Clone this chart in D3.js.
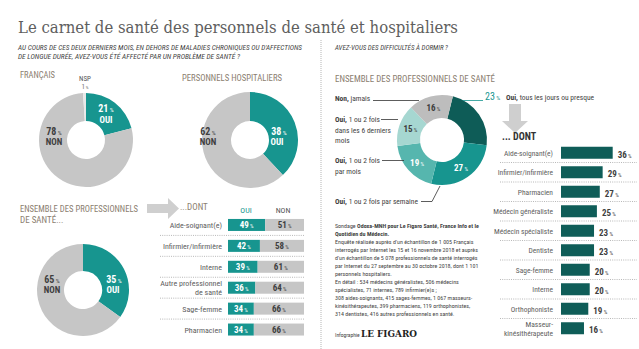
<!DOCTYPE html>
<html>
<head>
<meta charset="utf-8">
<script src="https://cdn.jsdelivr.net/npm/d3@7"></script>
<style>
  body { margin: 0; background: #fff; }
  svg { display: block; }
  text { font-family: "Liberation Sans Narrow", "Roboto Condensed", Roboto, sans-serif; }
</style>
</head>
<body>
<svg width="639" height="349"></svg>
<script>
// --- data ---
const pieCategories = ['OUI', 'NON', 'NSP'];
const francaisValues = [21, 78, 1];
const hospitaliersValues = [38, 62];
const professionnelsValues = [35, 65];

const metiers = ['Aide-soignant(e)', 'Infirmier/infirmière', 'Interne', 'Autre professionnel\nde santé', 'Sage-femme', 'Pharmacien'];
const metiersOui = [49, 42, 39, 36, 34, 34];
const metiersNon = [51, 58, 61, 64, 66, 66];

const sommeilCategories = ['Oui, tous les jours ou presque', 'Oui, 1 ou 2 fois par semaine', 'Oui, 1 ou 2 fois par mois', 'Oui, 1 ou 2 fois dans les 6 derniers mois', 'Non, jamais'];
const sommeilValues = [23, 27, 19, 15, 16];

const sommeilMetiers = ['Aide-soignant(e)', 'Infirmier/infirmière', 'Pharmacien', 'Médecin généraliste', 'Médecin spécialiste', 'Dentiste', 'Sage-femme', 'Interne', 'Orthophoniste', 'Masseur-\nkinésithérapeute'];
const sommeilMetiersValues = [36, 29, 27, 25, 23, 23, 20, 20, 19, 16];

// --- colours ---
const teal = '#17958f', grey = '#c6c6c6', brown = '#8b7e70', ink = '#3f3f3f', soft = '#5e5e5e';
const pieColors = [teal, grey, '#e8e8e8'];
const sleepColors = ['#0e5c57', '#17958f', '#56b6ae', '#a6d7d1', '#bdbdbd'];
const barDark = '#0f5d58';

const svg = d3.select('svg');

function label(g, x, y, str, o = {}) {
  const t = g.append('text')
    .attr('x', x).attr('y', y)
    .attr('font-size', o.size || 8)
    .attr('fill', o.fill || ink)
    .attr('text-anchor', o.anchor || 'start');
  if (o.weight) t.attr('font-weight', o.weight);
  if (o.italic) t.attr('font-style', 'italic');
  if (o.len) t.attr('textLength', o.len).attr('lengthAdjust', 'spacingAndGlyphs');
  t.text(str);
  return t;
}

// "49 %" with a smaller percent sign
function pct(g, x, y, v, o = {}) {
  const t = g.append('text')
    .attr('x', x).attr('y', y)
    .attr('font-size', o.size || 9)
    .attr('font-weight', o.weight || 'bold')
    .attr('fill', o.fill || ink)
    .attr('text-anchor', o.anchor || 'start');
  t.append('tspan').text(v);
  t.append('tspan').attr('font-size', (o.size || 9) * 0.62).attr('font-weight', 'normal').text(' %');
  return t;
}

function donut(cx, cy, values, colors, rOut, rIn, startDeg = 0) {
  const a0 = startDeg * Math.PI / 180;
  const pie = d3.pie().sort(null).startAngle(a0).endAngle(a0 + 2 * Math.PI);
  const arc = d3.arc().innerRadius(rIn).outerRadius(rOut);
  const g = svg.append('g').attr('transform', `translate(${cx},${cy})`);
  const arcs = pie(values);
  g.selectAll('path').data(arcs).join('path')
    .attr('d', arc)
    .attr('fill', (d, i) => colors[i]);
  return { g, arcs, arc };
}

// --- title ---
label(svg, 18, 33, 'Le carnet de santé des personnels de santé et hospitaliers',
  { size: 17, fill: '#5e5e5e', len: 440 }).style('font-family', '"DejaVu Serif", serif');

label(svg, 18, 50, "AU COURS DE CES DEUX DERNIERS MOIS, EN DEHORS DE MALADIES CHRONIQUES OU D'AFFECTIONS",
  { size: 7, italic: true, len: 284 });
label(svg, 18, 59, 'DE LONGUE DURÉE, AVEZ-VOUS ÉTÉ AFFECTÉ PAR UN PROBLÈME DE SANTÉ ?',
  { size: 7, italic: true, len: 222 });
label(svg, 335, 50, 'AVEZ-VOUS DES DIFFICULTÉS À DORMIR ?', { size: 7, italic: true, len: 113 });

// column separator
svg.append('line')
  .attr('x1', 321).attr('x2', 321).attr('y1', 40).attr('y2', 349)
  .attr('stroke', '#b5b5b5').attr('stroke-dasharray', '1,1');

// --- left donuts ---
label(svg, 20, 78, 'FRANÇAIS', { size: 9, fill: brown, len: 35 });
label(svg, 182, 81, 'PERSONNELS HOSPITALIERS', { size: 9, fill: brown, len: 100 });

const d1 = donut(86, 140, francaisValues, pieColors, 47, 19);
label(svg, 85, 81, pieCategories[2], { size: 7, fill: '#555', anchor: 'middle' });
pct(svg, 85, 89, francaisValues[2], { size: 7, weight: 'normal', fill: '#777', anchor: 'middle' });
pct(d1.g, 20, -28, francaisValues[0], { size: 10, fill: '#fff', anchor: 'middle' });
label(d1.g, 20, -17, pieCategories[0], { size: 9, weight: 'bold', fill: '#fff', anchor: 'middle' });
pct(d1.g, -32, -5, francaisValues[1], { size: 10, anchor: 'middle' });
label(d1.g, -32, 5, pieCategories[1], { size: 9, weight: 'bold', anchor: 'middle' });

const d2 = donut(250, 140, hospitaliersValues, pieColors, 48, 19);
pct(d2.g, 29, -5, hospitaliersValues[0], { size: 10, fill: '#fff', anchor: 'middle' });
label(d2.g, 27, 5, pieCategories[0], { size: 9, weight: 'bold', fill: '#fff', anchor: 'middle' });
pct(d2.g, -42, -5, hospitaliersValues[1], { size: 10, anchor: 'middle' });
label(d2.g, -42, 5, pieCategories[1], { size: 9, weight: 'bold', anchor: 'middle' });

// --- professionnels donut + arrow ---
label(svg, 20, 212, 'ENSEMBLE DES PROFESSIONNELS', { size: 9, fill: brown, len: 118 });
label(svg, 20, 223, 'DE SANTÉ...', { size: 9, fill: brown });

svg.append('path')
  .attr('d', 'M147,204 L168,204 L168,198 L179,208.5 L168,219 L168,213 L147,213 Z')
  .attr('fill', '#cfcfcf');
label(svg, 180, 210, '...DONT', { size: 9, fill: brown });

const d3d = donut(83, 290, professionnelsValues, pieColors, 46, 19);
pct(d3d.g, 31, -7, professionnelsValues[0], { size: 10, fill: '#fff', anchor: 'middle' });
label(d3d.g, 30, 3, pieCategories[0], { size: 9, weight: 'bold', fill: '#fff', anchor: 'middle' });
pct(d3d.g, -31, -7, professionnelsValues[1], { size: 10, anchor: 'middle' });
label(d3d.g, -31, 3, pieCategories[1], { size: 9, weight: 'bold', anchor: 'middle' });

// --- OUI / NON table ---
const yRow = d3.scaleBand().domain(metiers).range([214.5, 340]);
const xPct = d3.scaleLinear().domain([0, 100]).range([228, 304]);
const barH = 12;

label(svg, 246, 213, 'OUI', { size: 8, fill: teal, anchor: 'middle' });
label(svg, 283, 213, 'NON', { size: 8, fill: '#555', anchor: 'middle' });

const rows = svg.append('g').selectAll('g').data(metiers).join('g')
  .attr('transform', d => `translate(0,${yRow(d) + yRow.bandwidth() / 2})`);

rows.filter((d, i) => i > 0).append('line')
  .attr('x1', 160).attr('x2', 305)
  .attr('y1', -yRow.bandwidth() / 2).attr('y2', -yRow.bandwidth() / 2)
  .attr('stroke', '#9a9a9a').attr('stroke-width', 0.7).attr('stroke-dasharray', '1,1.2');

rows.append('rect')
  .attr('x', xPct(0)).attr('y', -barH / 2)
  .attr('width', (d, i) => xPct(metiersOui[i]) - xPct(0)).attr('height', barH)
  .attr('fill', teal);
rows.append('rect')
  .attr('x', (d, i) => xPct(metiersOui[i])).attr('y', -barH / 2)
  .attr('width', (d, i) => xPct(metiersOui[i] + metiersNon[i]) - xPct(metiersOui[i])).attr('height', barH)
  .attr('fill', grey);

rows.each(function (d, i) {
  const g = d3.select(this);
  const lines = d.split('\n');
  lines.forEach((s, k) => label(g, 222, 3 + (k - (lines.length - 1) / 2) * 9, s, { size: 8, fill: soft, anchor: 'end' }));
  pct(g, (xPct(0) + xPct(metiersOui[i])) / 2, 3.5, metiersOui[i], { size: 9, fill: '#fff', anchor: 'middle' });
  pct(g, (xPct(metiersOui[i]) + xPct(100)) / 2, 3.5, metiersNon[i], { size: 9, fill: ink, anchor: 'middle' });
});

// --- sleep donut ---
label(svg, 335, 82, 'ENSEMBLE DES PROFESSIONNELS DE SANTÉ', { size: 9, fill: brown, len: 160 });

const ds = donut(442, 140, sommeilValues, sleepColors, 45, 22, 14);
const midR = (45 + 22) / 2;
ds.arcs.forEach((a, i) => {
  if (i === 0) return;
  const m = (a.startAngle + a.endAngle) / 2;
  pct(ds.g, midR * Math.sin(m), -midR * Math.cos(m) + 3.5, sommeilValues[i],
    { size: 9, fill: i <= 2 ? '#fff' : ink, anchor: 'middle' });
});

const leader = d3.line();
const leaderStroke = g => g.attr('fill', 'none').attr('stroke', '#333').attr('stroke-width', 0.8);

// label blocks: first word bold, remaining text regular
function boldLead(x, y, lead, rest, size = 7.5) {
  const t = svg.append('text').attr('x', x).attr('y', y).attr('font-size', size).attr('fill', ink);
  t.append('tspan').attr('font-weight', 'bold').text(lead);
  t.append('tspan').text(rest);
  return t;
}

boldLead(335, 101, 'Non,', ' jamais');
svg.append('path').attr('d', leader([[373, 100.5], [419, 100.5]])).call(leaderStroke);

boldLead(335, 122, 'Oui,', ' 1 ou 2 fois');
label(svg, 335, 133, 'dans les 6 derniers', { size: 7.5 });
label(svg, 335, 143, 'mois', { size: 7.5 });
svg.append('path').attr('d', leader([[381, 119.5], [398, 119.5]])).call(leaderStroke);

boldLead(335, 163, 'Oui,', ' 1 ou 2 fois');
label(svg, 335, 174, 'par mois', { size: 7.5 });
svg.append('path').attr('d', leader([[382, 160.5], [404, 160.5]])).call(leaderStroke);

boldLead(335, 204, 'Oui,', ' 1 ou 2 fois par semaine');
svg.append('path').attr('d', leader([[421, 201.5], [432, 201.5], [440, 186]])).call(leaderStroke);

pct(svg, 485, 100, sommeilValues[0], { size: 10, weight: 'normal', fill: teal });
boldLead(506, 100, 'Oui,', ' tous les jours ou presque');
svg.append('path').attr('d', leader([[463, 100.5], [483, 100.5]])).call(g => g.attr('stroke', teal).attr('stroke-width', 0.8));

// down arrow
svg.append('path')
  .attr('d', 'M509,104 L521,104 L521,121 L528,121 L515,133 L502,121 L509,121 Z')
  .attr('fill', '#cfcfcf');
label(svg, 502, 140, '... DONT', { size: 10, weight: 'bold', fill: '#333' });

// --- sleep by profession bars ---
const yS = d3.scaleBand().domain(sommeilMetiers).range([143, 338]);
const xS = d3.scaleLinear().domain([0, 100]).range([561, 704.6]);
const sRows = svg.append('g').selectAll('g').data(sommeilMetiers).join('g')
  .attr('transform', d => `translate(0,${yS(d) + yS.bandwidth() / 2})`);

sRows.filter((d, i) => i > 0).append('line')
  .attr('x1', 500).attr('x2', 637)
  .attr('y1', -yS.bandwidth() / 2).attr('y2', -yS.bandwidth() / 2)
  .attr('stroke', '#9a9a9a').attr('stroke-width', 0.7).attr('stroke-dasharray', '1,1.2');

sRows.append('rect')
  .attr('x', xS(0)).attr('y', -6)
  .attr('width', (d, i) => xS(sommeilMetiersValues[i]) - xS(0)).attr('height', 12)
  .attr('fill', barDark);

sRows.each(function (d, i) {
  const g = d3.select(this);
  const lines = d.split('\n');
  lines.forEach((s, k) => label(g, 553, 3 + (k - (lines.length - 1) / 2) * 8.5, s, { size: 7.5, fill: soft, anchor: 'end' }));
  pct(g, xS(sommeilMetiersValues[i]) + 5, 5, sommeilMetiersValues[i], { size: 9, fill: ink });
});

// --- source ---
const src = svg.append('text').attr('x', 335).attr('y', 228).attr('font-size', 6).attr('fill', '#444');
src.append('tspan').text('Sondage ');
src.append('tspan').attr('font-weight', 'bold').text('Odoxa-MNH pour Le Figaro Santé, France Info et le');
const srcLines = [
  ['Quotidien du Médecin.', true],
  ["Enquête réalisée auprès d'un échantillon de 1 005 Français", false],
  ['interrogés par Internet les 15 et 16 novembre 2018 et auprès', false],
  ["d'un échantillon de 5 078 professionnels de santé interrogés", false],
  ['par Internet du 27 septembre au 30 octobre 2018, dont 1 101', false],
  ['personnels hospitaliers.', false],
  ['En détail : 534 médecins généralistes, 506 médecins', false],
  ['spécialistes, 71 internes, 789 infirmier(e)s ;', false],
  ['308 aides-soignants, 415 sages-femmes, 1 067 masseurs-', false],
  ['kinésithérapeutes, 399 pharmaciens, 119 orthophonistes,', false],
  ['314 dentistes, 416 autres professionnels en santé.', false]
];
srcLines.forEach(([s, b], i) => label(svg, 335, 236 + i * 8, s, { size: 6, fill: '#444', weight: b ? 'bold' : null }));

label(svg, 335, 337, 'Infographie', { size: 5.5, fill: '#444' });
label(svg, 361, 337, 'LE FIGARO', { size: 9, weight: 'bold', fill: '#222', len: 56 })
  .style('font-family', '"DejaVu Serif", serif');
</script>
</body>
</html>
